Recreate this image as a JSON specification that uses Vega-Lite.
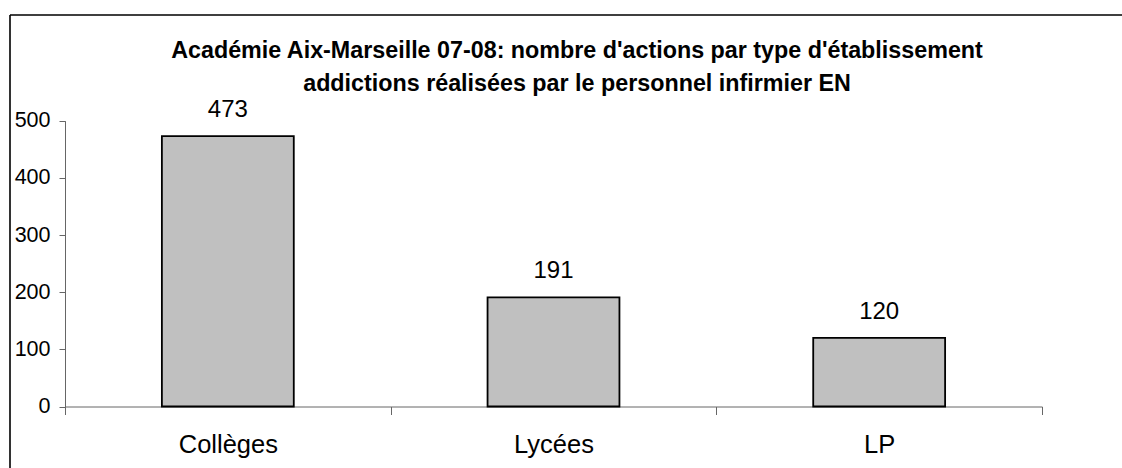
{
  "$schema": "https://vega.github.io/schema/vega-lite/v6.json",
  "width": 1112,
  "height": 453,
  "autosize": {"type": "none"},
  "padding": {"left": 10, "top": 15, "right": 0, "bottom": 0},
  "background": "white",
  "config": {
    "view": {"stroke": "black", "strokeWidth": 1.6, "strokeDash": [1112, 1565, 453, 0]},
    "font": "Liberation Sans"
  },
  "title": {
    "text": ["Académie Aix-Marseille 07-08: nombre d'actions par type d'établissement", "addictions  réalisées par le personnel infirmier EN"],
    "fontSize": 23.3,
    "fontWeight": "bold",
    "lineHeight": 33,
    "anchor": "middle",
    "dx": 11,
    "offset": -81,
    "color": "black",
    "font": "Liberation Sans"
  },
  "data": {
    "values": [
      {"type": "Collèges", "n": 473},
      {"type": "Lycées", "n": 191},
      {"type": "LP", "n": 120}
    ]
  },
  "encoding": {
    "x": {
      "field": "type",
      "type": "nominal",
      "sort": null,
      "scale": {"range": [55, 1032], "paddingInner": 0, "paddingOuter": 0},
      "axis": {
        "title": null,
        "orient": "bottom",
        "offset": -61.5,
        "tickBand": "extent",
        "tickSize": 8,
        "tickColor": "#666",
        "domainColor": "#666",
        "labelFontSize": 25.5,
        "labelPadding": 18,
        "labelAngle": 0,
        "labelColor": "black",
        "labelFont": "Liberation Sans",
        "grid": false
      }
    },
    "y": {
      "field": "n",
      "type": "quantitative",
      "scale": {"domain": [0, 500], "range": [391.5, 105.7], "nice": false},
      "axis": {
        "title": null,
        "values": [0, 100, 200, 300, 400, 500],
        "offset": -55,
        "tickSize": 6,
        "tickColor": "#666",
        "domainColor": "#666",
        "labelFontSize": 21.5,
        "labelPadding": 9,
        "labelColor": "black",
        "labelFont": "Liberation Sans",
        "grid": false
      }
    }
  },
  "layer": [
    {
      "mark": {"type": "bar", "width": {"band": 0.405}, "fill": "#C0C0C0", "stroke": "black", "strokeWidth": 1.8}
    },
    {
      "mark": {"type": "text", "baseline": "alphabetic", "dy": -19, "fontSize": 24, "font": "Liberation Sans", "color": "black"},
      "encoding": {"text": {"field": "n", "type": "quantitative"}}
    }
  ]
}
